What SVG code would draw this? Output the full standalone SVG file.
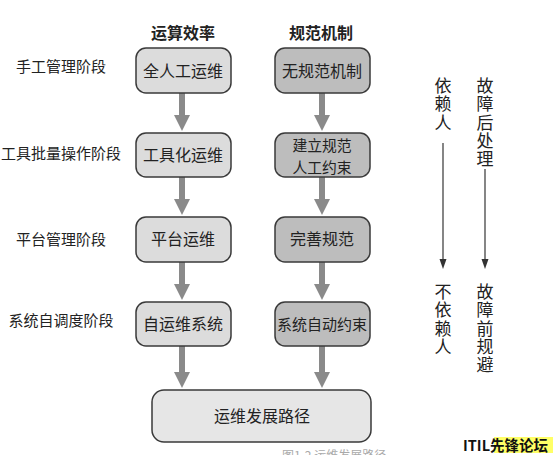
<svg xmlns="http://www.w3.org/2000/svg" width="553" height="455" viewBox="0 0 553 455">
<style>
.t{font-family:"Noto Sans CJK SC","Noto Sans",sans-serif;fill:#222}
.lbl{font-size:15px}
.box{font-size:16px;text-anchor:middle}
.hd{font-size:16px;font-weight:bold;text-anchor:middle}
.vt{font-size:17px;fill:#222;font-family:"Noto Sans CJK SC",serif;writing-mode:vertical-rl;letter-spacing:1.3px}
.b1{fill:#dcdcdc;stroke:#3a3a3a;stroke-width:1.5}
.b2{fill:#bdbdbd;stroke:#3a3a3a;stroke-width:1.5}
.b3{fill:#e6e6e6;stroke:#3a3a3a;stroke-width:1.5}
.sh{stroke:#8a8a8a;stroke-width:6}
.hdp{fill:#8a8a8a}
.thin{stroke:#444;stroke-width:1.3}
</style>
<rect width="553" height="455" fill="#fff"/>
<g id="headers">
<text class="t hd" x="183" y="39">运算效率</text>
<text class="t hd" x="321" y="39">规范机制</text>
</g>
<g id="stages">
<text class="t lbl" x="61" y="72" text-anchor="middle">手工管理阶段</text>
<text class="t lbl" x="61" y="159" text-anchor="middle">工具批量操作阶段</text>
<text class="t lbl" x="61" y="245" text-anchor="middle">平台管理阶段</text>
<text class="t lbl" x="61" y="326" text-anchor="middle">系统自调度阶段</text>
</g>
<g id="connectors">
<line class="sh" x1="182" y1="93" x2="182" y2="117"/><polygon class="hdp" points="174,115 190,115 182,131"/>
<line class="sh" x1="182" y1="177" x2="182" y2="201"/><polygon class="hdp" points="174,199 190,199 182,215"/>
<line class="sh" x1="182" y1="262" x2="182" y2="286"/><polygon class="hdp" points="174,284 190,284 182,300"/>
<line class="sh" x1="182" y1="346" x2="182" y2="374"/><polygon class="hdp" points="174,372 190,372 182,388"/>
<line class="sh" x1="322" y1="93" x2="322" y2="117"/><polygon class="hdp" points="314,115 330,115 322,131"/>
<line class="sh" x1="322" y1="177" x2="322" y2="201"/><polygon class="hdp" points="314,199 330,199 322,215"/>
<line class="sh" x1="322" y1="262" x2="322" y2="286"/><polygon class="hdp" points="314,284 330,284 322,300"/>
<line class="sh" x1="322" y1="346" x2="322" y2="374"/><polygon class="hdp" points="314,372 330,372 322,388"/>
<line class="thin" x1="443" y1="143" x2="443" y2="262"/><polygon fill="#333" points="439.5,259 446.5,259 443,269"/>
<line class="thin" x1="485" y1="169" x2="485" y2="262"/><polygon fill="#333" points="481.5,259 488.5,259 485,269"/>
</g>
<g id="n1"><rect class="b1" x="136" y="48" width="95" height="45" rx="10"/><text class="t box" x="183" y="77">全人工运维</text></g>
<g id="n2"><rect class="b1" x="136" y="133" width="95" height="44" rx="10"/><text class="t box" x="183" y="161">工具化运维</text></g>
<g id="n3"><rect class="b1" x="136" y="217" width="95" height="45" rx="10"/><text class="t box" x="183" y="245">平台运维</text></g>
<g id="n4"><rect class="b1" x="136" y="302" width="95" height="44" rx="10"/><text class="t box" x="183" y="330">自运维系统</text></g>
<g id="m1"><rect class="b2" x="275" y="48" width="95" height="45" rx="10"/><text class="t box" x="322" y="77">无规范机制</text></g>
<g id="m2"><rect class="b2" x="275" y="133" width="95" height="44" rx="10"/><text class="t box" x="322" y="151" style="font-size:14.8px">建立规范<tspan x="322" dy="21.5">人工约束</tspan></text></g>
<g id="m3"><rect class="b2" x="275" y="217" width="95" height="45" rx="10"/><text class="t box" x="322" y="245">完善规范</text></g>
<g id="m4"><rect class="b2" x="275" y="302" width="95" height="44" rx="10"/><text class="t box" x="322" y="330" style="font-size:15px">系统自动约束</text></g>
<g id="bottom"><rect class="b3" x="152" y="390" width="219" height="52" rx="12"/><text class="t box" x="262" y="422">运维发展路径</text></g>
<g id="right-labels">
<text class="vt" x="443" y="77">依赖人</text>
<text class="vt" x="485" y="77">故障后处理</text>
<text class="vt" x="443" y="283">不依赖人</text>
<text class="vt" x="485" y="283">故障前规避</text>
</g>
<g id="caption"><text class="t" x="282" y="460" font-size="12" style="fill:#aaa">图1-2 运维发展路径</text></g>
<g id="watermark">
<rect x="494" y="437" width="59" height="16" fill="#ffff66"/>
<text x="463" y="451" font-family="Noto Sans CJK SC,sans-serif" font-size="14.5" font-weight="bold" fill="#111">ITIL先锋论坛</text>
</g>
</svg>
